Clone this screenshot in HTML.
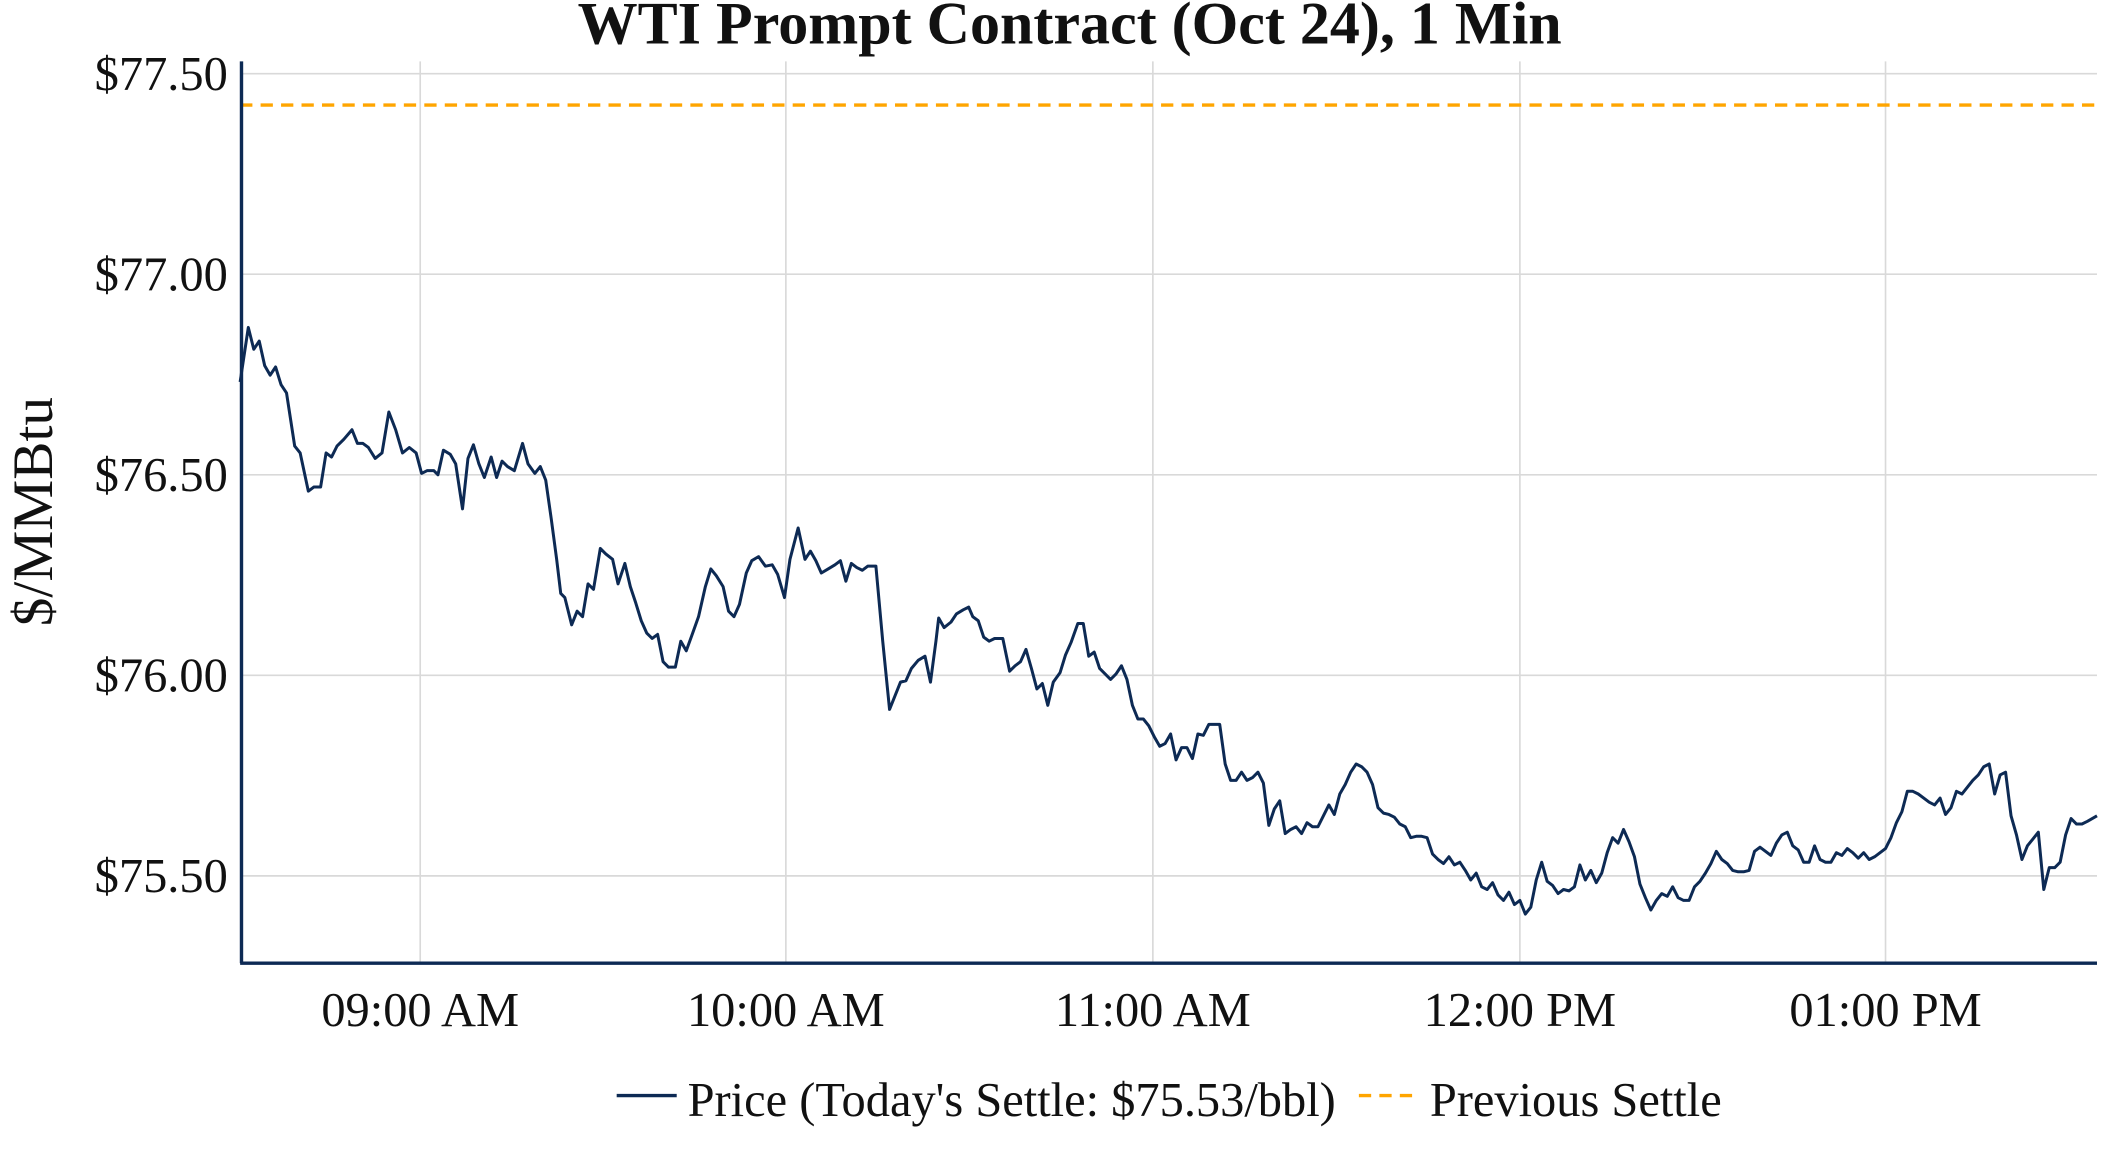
<!DOCTYPE html>
<html><head><meta charset="utf-8"><style>html,body{margin:0;padding:0;background:#fff}svg{display:block}</style></head>
<body>
<svg width="2112" height="1152" viewBox="0 0 1548 844.4" preserveAspectRatio="none" xmlns="http://www.w3.org/2000/svg" font-family="'Liberation Serif', serif">
<g stroke="#d9d9d9" stroke-width="1.2">
<line x1="308" y1="45" x2="308" y2="706"/><line x1="576" y1="45" x2="576" y2="706"/><line x1="845" y1="45" x2="845" y2="706"/><line x1="1114" y1="45" x2="1114" y2="706"/><line x1="1382" y1="45" x2="1382" y2="706"/>
<line x1="176" y1="54" x2="1537" y2="54"/><line x1="176" y1="201" x2="1537" y2="201"/><line x1="176" y1="348" x2="1537" y2="348"/><line x1="176" y1="495" x2="1537" y2="495"/><line x1="176" y1="642" x2="1537" y2="642"/>
</g>
<line x1="176" y1="77" x2="1537" y2="77" stroke="#ffa500" stroke-width="2.5" stroke-dasharray="9,6"/>
<polyline fill="none" stroke="#0d2a54" stroke-width="2.2" stroke-linejoin="round" points="176,280 182,240 186,256 190,250 194,268 198,275 202,269 206,282 210,288 216,327 220,332 226,360 230,357 235,357 239,332 243,335 247,327 252,322 258,315 262,325 266,325 270,328 275,336 280,332 285,302 290,315 295,332 300,328 305,332 309,347 313,345 318,345 321,348 325,330 330,333 334,340 339,373 343,336 347,326 351,340 355,350 360,335 364,350 368,338 372,342 377,345 383,325 387,340 392,347 396,342 400,352 404,380 408,410 411,435 414,438 419,458 423,448 427,452 431,428 435,432 440,402 444,406 449,410 453,428 458,413 462,430 466,442 470,455 474,464 478,468 482,465 486,485 490,489 495,489 499,470 503,477 507,466 512,452 517,430 521,417 525,422 530,430 534,448 538,452 542,443 547,420 551,411 556,408 561,415 566,414 570,421 575,438 579,410 585,387 590,410 594,404 598,411 602,420 607,417 612,414 616,411 620,426 624,413 628,416 632,418 636,415 642,415 647,470 652,520 656,510 660,500 664,499 668,490 673,484 678,481 682,500 686,470 688,453 692,460 697,456 701,450 706,447 710,445 713,452 717,455 721,467 725,470 729,468 735,468 740,492 744,488 748,485 752,476 756,490 760,505 764,501 768,517 772,500 777,493 781,480 785,471 790,457 794,457 798,481 802,478 806,490 810,494 814,498 818,494 822,488 826,498 830,517 834,527 838,527 842,532 846,540 850,547 854,545 858,538 862,557 866,548 870,548 874,556 878,538 882,539 886,531 890,531 894,531 898,560 902,572 906,572 910,566 914,572 918,570 922,566 926,574 930,605 934,593 938,587 942,611 946,608 950,606 954,611 958,603 962,606 966,606 970,598 974,590 978,597 982,582 986,575 990,566 994,560 998,562 1002,566 1006,575 1010,592 1014,596 1018,597 1022,599 1026,604 1030,606 1034,614 1038,613 1042,613 1046,614 1050,626 1054,630 1058,633 1062,628 1066,634 1070,632 1074,638 1078,645 1082,640 1086,650 1090,652 1094,647 1098,656 1102,660 1106,654 1110,663 1114,660 1118,670 1122,665 1126,645 1130,632 1134,646 1138,649 1142,655 1146,652 1150,653 1154,650 1158,634 1162,645 1166,638 1170,647 1174,640 1178,625 1182,614 1186,618 1190,608 1194,617 1198,628 1202,648 1206,658 1210,667 1214,660 1218,655 1222,657 1226,650 1230,658 1234,660 1238,660 1242,650 1246,646 1250,640 1254,633 1258,624 1262,630 1266,633 1270,638 1274,639 1278,639 1282,638 1286,624 1290,621 1294,624 1298,627 1302,618 1306,612 1310,610 1314,620 1318,623 1322,632 1326,632 1330,620 1334,630 1338,632 1342,632 1346,625 1350,627 1354,622 1358,625 1362,629 1366,625 1370,630 1374,628 1378,625 1382,622 1386,614 1390,603 1394,595 1398,580 1402,580 1406,582 1410,585 1414,588 1418,590 1422,585 1426,597 1430,592 1434,580 1438,582 1442,577 1446,572 1450,568 1454,562 1458,560 1462,582 1466,568 1470,566 1474,598 1478,612 1482,630 1486,620 1490,615 1494,610 1498,652 1502,636 1506,636 1510,632 1514,612 1518,600 1522,604 1526,604 1530,602 1537,598"/>
<g stroke="#0d2a54" stroke-width="2.5"><line x1="177" y1="45" x2="177" y2="706"/><line x1="176" y1="706" x2="1537" y2="706"/></g>
<g font-size="35.5" fill="#111" text-anchor="end">
<text x="167" y="66">$77.50</text><text x="167" y="213">$77.00</text><text x="167" y="360">$76.50</text><text x="167" y="507">$76.00</text><text x="167" y="654">$75.50</text>
</g>
<g font-size="35.5" fill="#111" text-anchor="middle">
<text x="308" y="752">09:00 AM</text><text x="576" y="752">10:00 AM</text><text x="845" y="752">11:00 AM</text><text x="1114" y="752">12:00 PM</text><text x="1382" y="752">01:00 PM</text>
</g>
<text x="784" y="32" font-size="44" font-weight="bold" text-anchor="middle" fill="#111">WTI Prompt Contract (Oct 24), 1 Min</text>
<text transform="translate(38,375) rotate(-90)" font-size="42" text-anchor="middle" fill="#111">$/MMBtu</text>
<line x1="452" y1="803" x2="496" y2="803" stroke="#0d2a54" stroke-width="2.5"/>
<text x="504" y="818" font-size="35.5" fill="#111">Price (Today's Settle: $75.53/bbl)</text>
<line x1="996" y1="803" x2="1040" y2="803" stroke="#ffa500" stroke-width="2.5" stroke-dasharray="9,6"/>
<text x="1048" y="818" font-size="35.5" fill="#111">Previous Settle</text>
</svg>
</body></html>
